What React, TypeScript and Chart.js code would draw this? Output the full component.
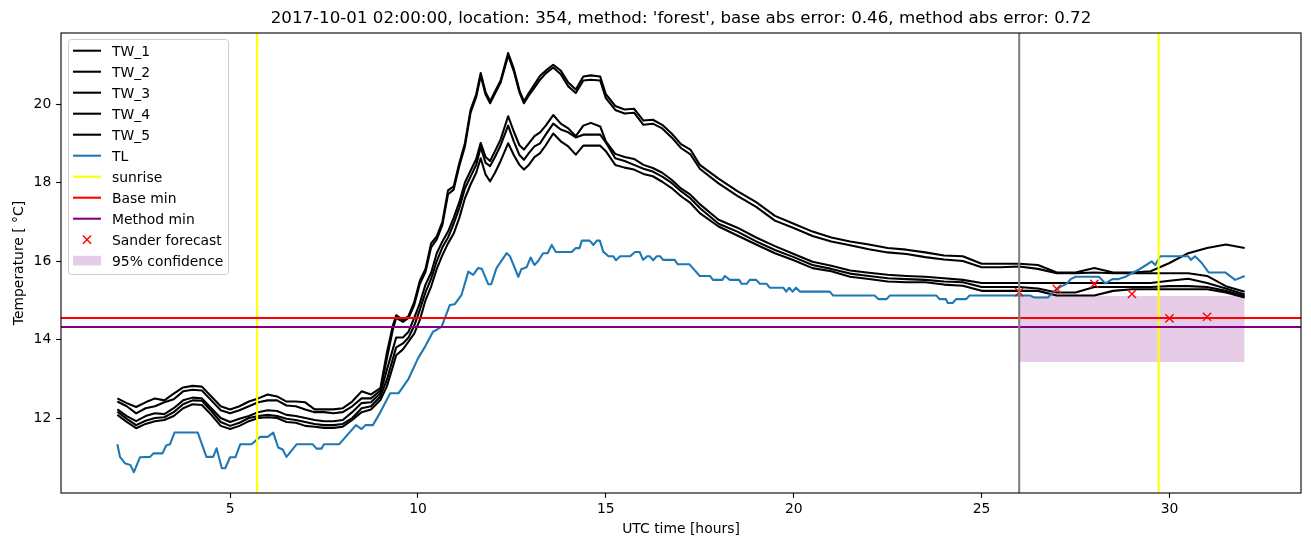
import React, { useEffect, useRef } from "react";
import { Chart, registerables } from "chart.js";

Chart.register(...registerables);

// ---------------- data ----------------
const titleText =
  "2017-10-01 02:00:00, location: 354, method: 'forest', base abs error: 0.46, method abs error: 0.72";
const xLabel = "UTC time [hours]";
const yLabel = "Temperature [ °C]";

const xTicks = [5, 10, 15, 20, 25, 30];
const yTicks = [12, 14, 16, 18, 20];
const xRange = [0.5, 33.5];
const yRange = [10.09, 21.81];

const twTimes = [
  2, 2.25, 2.5, 2.75, 3, 3.25, 3.5, 3.75, 4, 4.25, 4.5, 4.75, 5, 5.25, 5.5, 5.75, 6, 6.25, 6.5, 6.75, 7, 7.25, 7.5, 7.75, 8, 8.25, 8.5,
  8.75, 9, 9.17, 9.33, 9.42, 9.6, 9.75, 9.9, 10.05, 10.2, 10.35, 10.5, 10.65, 10.8, 10.95, 11.1, 11.25, 11.4, 11.55, 11.67,
  11.8, 11.92, 12.05, 12.2, 12.4, 12.55, 12.7, 12.82, 12.95, 13.1, 13.25, 13.4, 13.6, 13.8, 14, 14.2, 14.4, 14.6, 14.85, 15,
  15.25, 15.5, 15.75, 16, 16.25, 16.5, 16.75, 17, 17.25, 17.5,
  18, 18.5, 19, 19.5, 20, 20.5, 21, 21.5, 22, 22.5, 23, 23.5, 24, 24.5, 25, 25.5, 26,
  26.5, 27, 27.5, 28, 28.5, 29, 29.5, 30, 30.5, 31, 31.5, 32,
];

const tw1 = [
  12.5, 12.38, 12.28, 12.4, 12.5, 12.45, 12.62, 12.78, 12.82, 12.8, 12.55, 12.3, 12.22, 12.3, 12.42, 12.5, 12.6, 12.55, 12.42, 12.42, 12.4, 12.22, 12.22, 12.22, 12.25, 12.42, 12.68,
  12.6, 12.76, 13.65, 14.35, 14.62, 14.5, 14.6, 14.95, 15.5, 15.8, 16.45, 16.63, 17.0, 17.8, 17.9, 18.5, 19.0, 19.85, 20.25, 20.79,
  20.3, 20.07, 20.32, 20.6, 21.3, 20.9, 20.35, 20.07, 20.28, 20.5, 20.72, 20.85, 21.0, 20.85, 20.55, 20.37, 20.7, 20.73, 20.7, 20.25,
  19.95, 19.86, 19.88, 19.58, 19.6, 19.47, 19.25, 18.98, 18.84, 18.45,
  18.1, 17.78, 17.5, 17.15, 16.95, 16.75, 16.6, 16.5, 16.42, 16.33, 16.29, 16.22, 16.14, 16.12, 15.93, 15.93, 15.93,
  15.9, 15.71, 15.71, 15.82, 15.71, 15.71, 15.74, 15.95, 16.2, 16.33, 16.42, 16.33,
];
const tw2 = [
  12.42, 12.3, 12.12, 12.25, 12.3, 12.4, 12.48, 12.68, 12.72, 12.7, 12.45, 12.2, 12.12, 12.2, 12.3, 12.4, 12.45, 12.45, 12.32, 12.3, 12.22, 12.15, 12.15, 12.12, 12.15, 12.3, 12.5,
  12.5, 12.7, 13.5, 14.25, 14.55, 14.45, 14.55, 14.88, 15.42, 15.72, 16.35, 16.55, 16.92, 17.7, 17.82, 18.42, 18.92, 19.78, 20.18, 20.72,
  20.24, 20.02, 20.27, 20.55, 21.24, 20.84, 20.3, 20.02, 20.22, 20.42, 20.62, 20.78, 20.93, 20.76, 20.45, 20.28, 20.6, 20.62, 20.6, 20.15,
  19.85, 19.76, 19.78, 19.47, 19.5, 19.38, 19.15, 18.88, 18.72, 18.35,
  17.98, 17.66, 17.38, 17.03, 16.84, 16.64, 16.5, 16.4, 16.3, 16.22, 16.18, 16.1, 16.04, 16.0, 15.84, 15.84, 15.86,
  15.8, 15.69, 15.69, 15.71, 15.69, 15.69, 15.69, 15.69, 15.69, 15.62, 15.36, 15.22,
];
const tw3 = [
  12.22, 12.05, 11.92, 12.05, 12.12, 12.1, 12.25, 12.45, 12.52, 12.5, 12.25, 12.0, 11.9, 11.98, 12.05, 12.15, 12.2, 12.18, 12.08, 12.05, 12.0, 11.95, 11.92, 11.92, 11.95, 12.15, 12.38,
  12.4, 12.63, 13.22, 13.75, 14.05, 14.05, 14.2, 14.55, 14.93, 15.4, 15.7, 16.2, 16.5, 16.75, 17.1, 17.5, 18.0, 18.3, 18.6, 19.01,
  18.65, 18.55, 18.8, 19.1, 19.69, 19.3, 18.95, 18.84, 19.0, 19.18, 19.28, 19.45, 19.72, 19.5, 19.38, 19.18, 19.45, 19.52, 19.43, 19.05,
  18.73, 18.65, 18.6, 18.45, 18.37, 18.25, 18.07, 17.85, 17.69, 17.45,
  17.05, 16.85, 16.6, 16.38, 16.18, 15.98, 15.88, 15.76, 15.7, 15.65, 15.62, 15.6, 15.56, 15.52, 15.44, 15.44, 15.44,
  15.44, 15.44, 15.44, 15.44, 15.44, 15.44, 15.44, 15.5, 15.55, 15.44, 15.3, 15.15,
];
const tw4 = [
  12.16, 11.98, 11.82, 11.93, 12.0, 12.02, 12.15, 12.35, 12.45, 12.44, 12.18, 11.9, 11.8, 11.88, 12.0, 12.05, 12.08, 12.05, 11.98, 11.95, 11.9, 11.85, 11.82, 11.82, 11.85, 12.0, 12.25,
  12.3, 12.55, 12.97, 13.5, 13.8, 13.9, 14.05, 14.35, 14.76, 15.2, 15.55, 16.0, 16.35, 16.6, 16.95, 17.35, 17.85, 18.15, 18.45, 18.9,
  18.5, 18.42, 18.65, 18.95, 19.45, 19.05, 18.7, 18.58, 18.75, 18.92, 19.0, 19.22, 19.5, 19.35, 19.28, 19.15, 19.22, 19.22, 19.22, 19.02,
  18.62, 18.55, 18.45, 18.35, 18.28, 18.15, 17.99, 17.78, 17.6, 17.35,
  16.95, 16.75, 16.5, 16.28, 16.1, 15.9, 15.8, 15.68, 15.62, 15.56, 15.54, 15.52, 15.48, 15.46, 15.34, 15.34, 15.34,
  15.3, 15.2, 15.2, 15.34, 15.34, 15.34, 15.34, 15.36, 15.36, 15.34, 15.24, 15.1,
];
const tw5 = [
  12.08, 11.9, 11.74, 11.85, 11.92, 11.95, 12.05, 12.25, 12.35, 12.33, 12.08, 11.8, 11.72, 11.8, 11.92, 12.0, 12.02, 12.0, 11.9, 11.88, 11.8, 11.78, 11.75, 11.75, 11.78, 11.95, 12.15,
  12.22, 12.46, 12.8, 13.3, 13.6, 13.75, 13.95, 14.15, 14.5, 15.0, 15.35, 15.8, 16.15, 16.45, 16.7, 17.1, 17.6, 17.95, 18.25, 18.62,
  18.2, 18.03, 18.25, 18.55, 19.0, 18.7, 18.45, 18.33, 18.45, 18.65, 18.75, 18.95, 19.25, 19.05, 18.92, 18.71, 18.94, 18.94, 18.94, 18.8,
  18.45, 18.38, 18.33, 18.22, 18.16, 18.02, 17.86, 17.65, 17.48, 17.22,
  16.88, 16.65, 16.42, 16.2, 16.02, 15.82, 15.74, 15.6, 15.54, 15.48, 15.46, 15.46, 15.4, 15.37, 15.24, 15.24, 15.24,
  15.24, 15.12, 15.12, 15.12, 15.24, 15.28, 15.28, 15.28, 15.28, 15.28, 15.2, 15.07,
];

const tlTimes = [
  2.0, 2.07, 2.2, 2.35, 2.44, 2.6, 2.87, 2.96, 3.2, 3.3, 3.4, 3.52, 4.14, 4.37, 4.55, 4.64, 4.78, 4.87, 5.0, 5.14,
  5.27, 5.57, 5.8, 6.0, 6.15, 6.28, 6.4, 6.5, 6.77, 7.2, 7.3, 7.43, 7.5, 7.9, 8.35, 8.5, 8.6, 8.8, 8.96, 9.26,
  9.48, 9.75, 10.0, 10.19, 10.4, 10.5, 10.63, 10.85, 10.98, 11.16, 11.34, 11.47, 11.6, 11.7, 11.87, 11.95, 12.09, 12.36, 12.45, 12.67,
  12.75, 12.89, 13.0, 13.1, 13.2, 13.33, 13.45, 13.56, 13.67, 14.09, 14.2, 14.3, 14.36, 14.57, 14.67, 14.76, 14.84, 14.93, 15.07, 15.2,
  15.27, 15.38, 15.64, 15.78, 15.9, 15.99, 16.1, 16.17, 16.26, 16.35, 16.45, 16.52, 16.83, 16.91, 17.22, 17.5, 17.77, 17.85, 18.1, 18.17,
  18.3, 18.55, 18.61, 18.75, 18.83, 19.0, 19.1, 19.28, 19.36, 19.72, 19.8, 19.88, 19.97, 20.06, 20.17, 20.96, 21.05, 22.15, 22.25, 22.47,
  22.56, 23.8, 23.88, 24.05, 24.1, 24.23, 24.32, 24.59, 24.68, 26.3, 26.4, 26.76, 26.9, 27.07, 27.28, 27.37, 27.5, 28.12, 28.3, 28.48,
  28.65, 28.83, 29.0, 29.18, 29.35, 29.53, 29.62, 29.75, 30.5, 30.57, 30.68, 30.86, 31.04, 31.48, 31.75, 32.0,
];
const tlValues = [
  11.33, 11.01, 10.85, 10.8, 10.62, 11.0, 11.01, 11.1, 11.1, 11.3, 11.33, 11.63, 11.63, 11.01, 11.01, 11.23, 10.72, 10.72, 11.0, 11.0,
  11.33, 11.33, 11.52, 11.52, 11.63, 11.25, 11.2, 11.01, 11.33, 11.33, 11.22, 11.22, 11.33, 11.33, 11.82, 11.72, 11.82, 11.82, 12.08, 12.63,
  12.63, 13.0, 13.52, 13.82, 14.2, 14.25, 14.33, 14.88, 14.9, 15.14, 15.73, 15.65, 15.82, 15.8, 15.41, 15.41, 15.82, 16.2, 16.12, 15.6,
  15.79, 15.84, 16.09, 15.9, 16.0, 16.2, 16.2, 16.41, 16.23, 16.23, 16.33, 16.33, 16.52, 16.52, 16.41, 16.52, 16.52, 16.24, 16.12, 16.12,
  16.02, 16.12, 16.12, 16.23, 16.23, 16.03, 16.12, 16.12, 16.02, 16.12, 16.12, 16.03, 16.03, 15.92, 15.92, 15.62, 15.62, 15.52, 15.52, 15.62,
  15.52, 15.52, 15.42, 15.42, 15.52, 15.52, 15.42, 15.42, 15.32, 15.32, 15.22, 15.32, 15.22, 15.32, 15.22, 15.22, 15.12, 15.12, 15.03, 15.03,
  15.12, 15.12, 15.03, 15.03, 14.93, 14.93, 15.03, 15.03, 15.12, 15.12, 15.07, 15.07, 15.2, 15.33, 15.43, 15.54, 15.6, 15.6, 15.43, 15.54,
  15.54, 15.6, 15.69, 15.78, 15.88, 15.99, 15.9, 16.12, 16.12, 16.03, 16.12, 15.95, 15.71, 15.71, 15.52, 15.62,
];

const sunriseHours = [5.72, 29.71];
const nowHour = 26;
const baseMin = 14.55;
const methodMin = 14.32;
const forecastHours = [26, 27, 28, 29, 30, 31];
const forecastValues = [15.21, 15.29, 15.42, 15.16, 14.54, 14.58];
const confHours = [26, 32];
const confUpper = 15.11;
const confLower = 13.43;

const twLabels = ["TW_1", "TW_2", "TW_3", "TW_4", "TW_5"];
const twSeries = [tw1, tw2, tw3, tw4, tw5];

// ---------------- styles ----------------
const FONT = "'DejaVu Sans', 'Liberation Sans', sans-serif";
const BLUE = "#1f77b4";
const YELLOW = "#ffff00";
const RED = "#ff0000";
const PURPLE = "#800080";
const CONF = "rgba(128,0,128,0.2)";
const LW = 2.08;
const TICK = 4.86;

type LegendItem = { label: string; kind: "line" | "x" | "patch"; color: string };

const legendItems: LegendItem[] = [
  ...twLabels.map((l) => ({ label: l, kind: "line" as const, color: "#000000" })),
  { label: "TL", kind: "line", color: BLUE },
  { label: "sunrise", kind: "line", color: YELLOW },
  { label: "Base min", kind: "line", color: RED },
  { label: "Method min", kind: "line", color: PURPLE },
  { label: "Sander forecast", kind: "x", color: RED },
  { label: "95% confidence", kind: "patch", color: CONF },
];

const decorPlugin = {
  id: "decor",
  afterDraw(chart: any) {
    const ctx = chart.ctx as CanvasRenderingContext2D;
    const a = chart.chartArea;
    ctx.save();
    // frame
    ctx.strokeStyle = "#000";
    ctx.lineWidth = 1.1;
    ctx.strokeRect(a.left, a.top, a.right - a.left, a.bottom - a.top);
    // title
    ctx.fillStyle = "#000";
    ctx.font = `16.67px ${FONT}`;
    ctx.textAlign = "center";
    ctx.textBaseline = "alphabetic";
    ctx.fillText(titleText, (a.left + a.right) / 2, 22.5);
    // legend
    const bx = 68.5, by = 39.5, bw = 160, bh = 235, r = 3;
    ctx.beginPath();
    ctx.moveTo(bx + r, by);
    ctx.lineTo(bx + bw - r, by);
    ctx.quadraticCurveTo(bx + bw, by, bx + bw, by + r);
    ctx.lineTo(bx + bw, by + bh - r);
    ctx.quadraticCurveTo(bx + bw, by + bh, bx + bw - r, by + bh);
    ctx.lineTo(bx + r, by + bh);
    ctx.quadraticCurveTo(bx, by + bh, bx, by + bh - r);
    ctx.lineTo(bx, by + r);
    ctx.quadraticCurveTo(bx, by, bx + r, by);
    ctx.closePath();
    ctx.fillStyle = "rgba(255,255,255,0.8)";
    ctx.fill();
    ctx.strokeStyle = "#cccccc";
    ctx.lineWidth = 1;
    ctx.stroke();
    ctx.font = `13.9px ${FONT}`;
    ctx.textAlign = "left";
    legendItems.forEach((it, i) => {
      const y = 50.7 + i * 21.0;
      if (it.kind === "line") {
        ctx.strokeStyle = it.color;
        ctx.lineWidth = LW;
        ctx.beginPath();
        ctx.moveTo(73, y);
        ctx.lineTo(101, y);
        ctx.stroke();
      } else if (it.kind === "x") {
        ctx.strokeStyle = it.color;
        ctx.lineWidth = 1.4;
        ctx.beginPath();
        ctx.moveTo(87 - 4.1, y - 4.1);
        ctx.lineTo(87 + 4.1, y + 4.1);
        ctx.moveTo(87 - 4.1, y + 4.1);
        ctx.lineTo(87 + 4.1, y - 4.1);
        ctx.stroke();
      } else {
        ctx.fillStyle = it.color;
        ctx.fillRect(73, y - 4.9, 28, 9.7);
      }
      ctx.fillStyle = "#000";
      ctx.fillText(it.label, 112, y + 5.2);
    });
    ctx.restore();
  },
};

function lineDs(label: string, xs: number[], ys: number[], color: string, order: number) {
  return {
    label,
    data: xs.map((x, i) => ({ x, y: ys[i] })),
    borderColor: color,
    backgroundColor: color,
    borderWidth: LW,
    borderJoinStyle: "round",
    borderCapStyle: "butt",
    pointRadius: 0,
    tension: 0,
    fill: false,
    order,
  };
}

export default function App() {
  const ref = useRef<HTMLCanvasElement | null>(null);

  useEffect(() => {
    if (!ref.current) return;
    const datasets: any[] = [];
    datasets.push({
      label: "95% confidence",
      data: confHours.map((x) => ({ x, y: confUpper })),
      borderColor: "rgba(0,0,0,0)",
      borderWidth: 0,
      backgroundColor: CONF,
      pointRadius: 0,
      fill: { value: confLower },
      order: 100,
    });
    twSeries.forEach((s, i) => datasets.push(lineDs(twLabels[i], twTimes, s, "#000000", 60 - i)));
    datasets.push(lineDs("TL", tlTimes, tlValues, BLUE, 50));
    sunriseHours.forEach((h, i) =>
      datasets.push(lineDs(i === 0 ? "sunrise" : "sunrise_2", [h, h], [yRange[0], yRange[1]], YELLOW, 40 - i))
    );
    datasets.push(lineDs("Base min", [xRange[0], xRange[1]], [baseMin, baseMin], RED, 30));
    datasets.push(lineDs("Method min", [xRange[0], xRange[1]], [methodMin, methodMin], PURPLE, 29));
    datasets.push({
      label: "Sander forecast",
      data: forecastHours.map((x, i) => ({ x, y: forecastValues[i] })),
      showLine: false,
      pointStyle: "crossRot",
      pointRadius: 5.8,
      pointBorderColor: RED,
      pointBorderWidth: 1.4,
      borderColor: RED,
      backgroundColor: RED,
      order: 20,
    });
    datasets.push(lineDs("now", [nowHour, nowHour], [yRange[0], yRange[1]], "#808080", 10));

    const tickFont = { family: FONT, size: 13.9 };
    const chart = new Chart(ref.current, {
      type: "line",
      data: { datasets },
      plugins: [decorPlugin],
      options: {
        animation: false,
        responsive: false,
        events: [],
        layout: { padding: { top: 33, right: 10, left: 0, bottom: 0 }, autoPadding: false },
        plugins: { legend: { display: false }, tooltip: { enabled: false }, title: { display: false } },
        scales: {
          x: {
            type: "linear",
            min: xRange[0],
            max: xRange[1],
            afterBuildTicks: (s: any) => {
              s.ticks = xTicks.map((v) => ({ value: v }));
            },
            afterFit: (s: any) => {
              s.height = 54;
            },
            ticks: { font: tickFont, color: "#000", padding: 3.2, maxRotation: 0, autoSkip: false },
            grid: { drawOnChartArea: false, drawTicks: true, tickLength: TICK, tickColor: "#000", tickWidth: 1.1 },
            border: { display: false },
            title: { display: true, text: xLabel, font: tickFont, color: "#000", padding: { top: 0, bottom: 9.7 } },
          },
          y: {
            type: "linear",
            min: yRange[0],
            max: yRange[1],
            afterBuildTicks: (s: any) => {
              s.ticks = yTicks.map((v) => ({ value: v }));
            },
            afterFit: (s: any) => {
              s.width = 61;
            },
            ticks: { font: tickFont, color: "#000", padding: 4.86, autoSkip: false },
            grid: { drawOnChartArea: false, drawTicks: true, tickLength: TICK, tickColor: "#000", tickWidth: 1.1 },
            border: { display: false },
            title: { display: true, text: yLabel, font: tickFont, color: "#000", padding: { top: 10.7, bottom: 0 } },
          },
        },
      } as any,
    });
    return () => chart.destroy();
  }, []);

  return (
    <div style={{ position: "absolute", left: 0, top: 0, width: 1311, height: 547, background: "#fff" }}>
      <canvas ref={ref} width={1311} height={547} style={{ display: "block", width: 1311, height: 547 }} />
    </div>
  );
}
